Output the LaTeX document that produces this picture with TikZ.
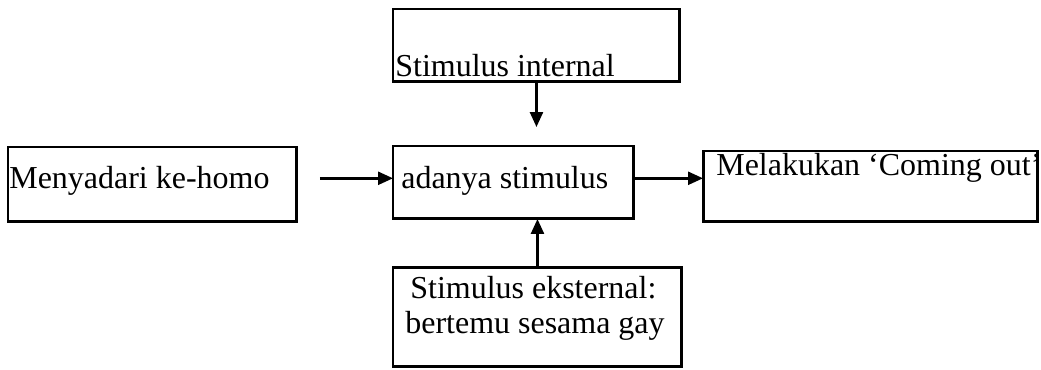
\documentclass[tikz,border=0pt]{standalone}
\usepackage{fontspec}
\setmainfont{Liberation Serif}
\usetikzlibrary{arrows.meta}

\begin{document}
\begin{tikzpicture}[x=0.02cm,y=-0.02cm]
        \tikzstyle{box}=[draw,line width=1.7pt,inner sep=0,outer sep=0,anchor=north west]
        \tikzstyle{txt}=[inner sep=0,anchor=base west,font=\fontsize{18.2}{22}\selectfont]
        \tikzstyle{link}=[line width=1.4pt,-{Triangle[length=0.3cm,width=0.26cm]}]
        \useasboundingbox (0,0) rectangle (1041,369);
        \node[box,minimum width=5.74cm,minimum height=1.46cm] (int) at (393,9) {};
        \node[box,minimum width=5.78cm,minimum height=1.5cm] (homo) at (8,147) {};
        \node[box,minimum width=4.82cm,minimum height=1.46cm] (stim) at (393,146) {};
        \node[box,minimum width=6.7cm,minimum height=1.42cm] (out) at (703,151) {};
        \node[box,minimum width=5.78cm,minimum height=2cm] (ext) at (393,267) {};
        \node[txt] (intlabel) at (395,76) {Stimulus internal};
        \node[txt] (homolabel) at (9,188) {Menyadari ke-homo};
        \node[txt] (stimlabel) at (401,188) {adanya stimulus};
        \node[txt] (outlabel) at (716,175) {Melakukan ‘Coming out’};
        \node[txt] (extlabel) at (410,298) {Stimulus eksternal:};
        \node[txt] (extlabelb) at (405,333) {bertemu sesama gay};
        \draw[link,shorten <=0.46cm] (homo.east |- stim.178) -- (stim.178);
        \draw[link] (stim.2) -- (stim.2 -| out.west);
        \draw[link,shorten >=0.38cm] (int.south) -- (int.south |- stim.north);
        \draw[link] (ext.north) -- (ext.north |- stim.south);
    \end{tikzpicture}
\end{document}
